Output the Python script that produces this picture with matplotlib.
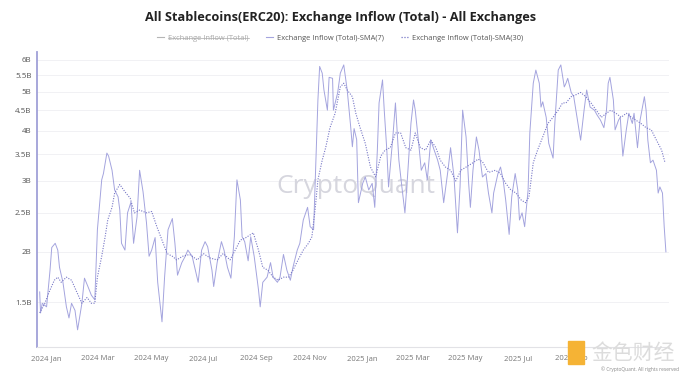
import matplotlib
matplotlib.use("Agg")
import matplotlib.pyplot as plt
import matplotlib.dates as mdates
from matplotlib.ticker import FixedLocator, NullLocator
from matplotlib.lines import Line2D
import pandas as pd

title = "All Stablecoins(ERC20): Exchange Inflow (Total) - All Exchanges"
legend_labels = ["Exchange Inflow (Total)", "Exchange Inflow (Total)-SMA(7)", "Exchange Inflow (Total)-SMA(30)"]

sma7_dates = [
    "2023-12-24", "2023-12-25", "2023-12-27", "2024-01-01", "2024-01-05", "2024-01-07", "2024-01-11",
    "2024-01-14", "2024-01-16", "2024-01-20", "2024-01-24", "2024-01-27", "2024-01-30", "2024-02-03",
    "2024-02-06", "2024-02-11", "2024-02-14", "2024-02-18", "2024-02-22", "2024-02-26", "2024-02-29",
    "2024-03-05", "2024-03-07", "2024-03-11", "2024-03-13", "2024-03-17", "2024-03-20", "2024-03-24",
    "2024-03-26", "2024-03-28", "2024-04-01", "2024-04-04", "2024-04-08", "2024-04-11", "2024-04-15",
    "2024-04-18", "2024-04-22", "2024-04-26", "2024-04-29", "2024-05-02", "2024-05-06", "2024-05-09",
    "2024-05-14", "2024-05-17", "2024-05-21", "2024-05-26", "2024-05-29", "2024-06-01", "2024-06-06",
    "2024-06-10", "2024-06-13", "2024-06-18", "2024-06-21", "2024-06-25", "2024-06-29", "2024-07-03",
    "2024-07-06", "2024-07-11", "2024-07-13", "2024-07-17", "2024-07-22", "2024-07-25", "2024-07-29",
    "2024-08-02", "2024-08-06", "2024-08-09", "2024-08-13", "2024-08-15", "2024-08-18", "2024-08-22",
    "2024-08-25", "2024-08-29", "2024-09-03", "2024-09-05", "2024-09-08", "2024-09-13", "2024-09-17",
    "2024-09-20", "2024-09-25", "2024-09-28", "2024-10-02", "2024-10-06", "2024-10-10", "2024-10-13",
    "2024-10-18", "2024-10-21", "2024-10-25", "2024-10-30", "2024-11-02", "2024-11-06", "2024-11-08",
    "2024-11-11", "2024-11-13", "2024-11-16", "2024-11-18", "2024-11-22", "2024-11-24", "2024-11-28",
    "2024-11-29", "2024-12-04", "2024-12-07", "2024-12-11", "2024-12-15", "2024-12-19", "2024-12-21",
    "2024-12-23", "2024-12-26", "2024-12-28", "2025-01-02", "2025-01-05", "2025-01-09", "2025-01-13",
    "2025-01-16", "2025-01-19", "2025-01-21", "2025-01-25", "2025-01-27", "2025-01-30", "2025-02-01",
    "2025-02-06", "2025-02-09", "2025-02-13", "2025-02-16", "2025-02-20", "2025-02-23", "2025-02-27",
    "2025-03-02", "2025-03-04", "2025-03-08", "2025-03-11", "2025-03-15", "2025-03-18", "2025-03-22",
    "2025-03-25", "2025-03-30", "2025-04-02", "2025-04-06", "2025-04-11", "2025-04-14", "2025-04-18",
    "2025-04-22", "2025-04-25", "2025-04-28", "2025-05-02", "2025-05-05", "2025-05-07", "2025-05-10",
    "2025-05-14", "2025-05-17", "2025-05-21", "2025-05-25", "2025-05-28", "2025-06-01", "2025-06-03",
    "2025-06-08", "2025-06-11", "2025-06-14", "2025-06-17", "2025-06-21", "2025-06-24", "2025-06-28",
    "2025-07-01", "2025-07-03", "2025-07-06", "2025-07-09", "2025-07-13", "2025-07-15", "2025-07-19",
    "2025-07-22", "2025-07-26", "2025-07-28", "2025-07-30", "2025-08-03", "2025-08-06", "2025-08-11",
    "2025-08-13", "2025-08-17", "2025-08-20", "2025-08-24", "2025-08-26", "2025-08-28", "2025-09-01",
    "2025-09-04", "2025-09-09", "2025-09-12", "2025-09-16", "2025-09-19", "2025-09-23", "2025-09-28",
    "2025-10-01", "2025-10-05", "2025-10-09", "2025-10-12", "2025-10-14", "2025-10-16", "2025-10-20",
    "2025-10-22", "2025-10-26", "2025-10-28", "2025-10-31", "2025-11-04", "2025-11-07", "2025-11-11",
    "2025-11-13", "2025-11-17", "2025-11-20", "2025-11-25", "2025-11-27", "2025-11-29", "2025-12-02",
    "2025-12-05", "2025-12-09", "2025-12-11", "2025-12-13", "2025-12-16", "2025-12-18", "2025-12-20",
]
sma7_values = [
    1.59, 1.41, 1.49, 1.46, 1.80, 2.05, 2.10,
    2.02, 1.83, 1.68, 1.46, 1.37, 1.49, 1.43,
    1.28, 1.49, 1.72, 1.64, 1.56, 1.52, 2.27,
    3.02, 3.13, 3.52, 3.46, 3.19, 2.85, 2.74,
    2.54, 2.10, 2.02, 2.50, 2.66, 2.10, 2.44,
    3.19, 2.82, 2.36, 1.95, 2.02, 2.17, 1.68,
    1.34, 1.73, 2.27, 2.42, 2.10, 1.75, 1.88,
    1.95, 2.02, 1.95, 1.83, 1.68, 2.02, 2.12,
    2.06, 1.80, 1.64, 1.88, 2.12, 2.02, 1.83,
    1.72, 2.18, 3.02, 2.69, 2.18, 2.12, 1.90,
    2.18, 1.95, 1.61, 1.46, 1.68, 1.73, 1.88,
    1.73, 1.68, 1.73, 1.97, 1.80, 1.70, 1.83,
    2.02, 2.10, 2.40, 2.58, 2.31, 2.27, 3.07,
    4.77, 5.78, 5.56, 5.05, 4.50, 5.43, 5.40,
    4.50, 4.98, 5.56, 5.83, 5.05, 4.10, 3.65,
    4.05, 3.80, 2.65, 2.96, 3.07, 2.85, 2.96,
    2.58, 3.58, 4.69, 5.35, 4.50, 3.58, 2.90,
    3.86, 4.69, 3.38, 2.96, 2.50, 3.07, 4.17,
    4.77, 4.50, 3.72, 3.19, 3.33, 3.02, 3.79,
    3.63, 3.38, 3.19, 2.65, 3.19, 3.63, 3.07,
    2.23, 2.90, 4.50, 3.86, 2.96, 2.58, 3.19,
    3.86, 3.58, 3.07, 3.13, 2.80, 2.50, 2.80,
    3.13, 3.25, 3.02, 2.69, 2.21, 2.74, 3.13,
    2.85, 2.40, 2.50, 2.31, 2.85, 3.95, 5.25,
    5.66, 5.25, 4.58, 4.72, 4.32, 3.72, 3.42,
    4.17, 5.66, 5.83, 5.14, 5.25, 5.40, 4.98,
    4.86, 4.17, 3.79, 4.50, 5.05, 4.58, 4.50,
    4.38, 4.25, 4.07, 4.50, 5.25, 5.43, 4.77,
    4.02, 4.25, 4.32, 3.46, 4.02, 4.42, 4.17,
    4.42, 3.63, 4.25, 4.86, 4.50, 3.79, 3.33,
    3.38, 3.19, 2.80, 2.90, 2.80, 2.31, 2.00,
]

sma30_dates = [
    "2023-12-24", "2023-12-30", "2024-01-04", "2024-01-10", "2024-01-14", "2024-01-18", "2024-01-24",
    "2024-01-30", "2024-02-05", "2024-02-11", "2024-02-17", "2024-02-22", "2024-02-26", "2024-02-29",
    "2024-03-05", "2024-03-09", "2024-03-12", "2024-03-17", "2024-03-20", "2024-03-26", "2024-04-01",
    "2024-04-07", "2024-04-12", "2024-04-18", "2024-04-26", "2024-05-02", "2024-05-08", "2024-05-14",
    "2024-05-20", "2024-05-26", "2024-05-31", "2024-06-07", "2024-06-15", "2024-06-24", "2024-07-01",
    "2024-07-09", "2024-07-17", "2024-07-24", "2024-08-01", "2024-08-07", "2024-08-13", "2024-08-18",
    "2024-08-28", "2024-09-03", "2024-09-08", "2024-09-14", "2024-09-20", "2024-09-26", "2024-10-02",
    "2024-10-08", "2024-10-13", "2024-10-19", "2024-10-25", "2024-10-31", "2024-11-04", "2024-11-08",
    "2024-11-11", "2024-11-16", "2024-11-20", "2024-11-25", "2024-12-01", "2024-12-07", "2024-12-11",
    "2024-12-15", "2024-12-21", "2024-12-25", "2024-12-30", "2025-01-05", "2025-01-11", "2025-01-17",
    "2025-01-23", "2025-01-28", "2025-02-03", "2025-02-09", "2025-02-15", "2025-02-21", "2025-02-27",
    "2025-03-04", "2025-03-10", "2025-03-16", "2025-03-22", "2025-03-28", "2025-04-02", "2025-04-08",
    "2025-04-14", "2025-04-20", "2025-04-26", "2025-05-02", "2025-05-10", "2025-05-16", "2025-05-21",
    "2025-05-28", "2025-06-05", "2025-06-11", "2025-06-17", "2025-06-23", "2025-06-29", "2025-07-05",
    "2025-07-10", "2025-07-14", "2025-07-19", "2025-07-24", "2025-07-30", "2025-08-05", "2025-08-11",
    "2025-08-17", "2025-08-22", "2025-08-26", "2025-09-01", "2025-09-07", "2025-09-12", "2025-09-18",
    "2025-09-24", "2025-09-30", "2025-10-06", "2025-10-12", "2025-10-17", "2025-10-23", "2025-10-29",
    "2025-11-04", "2025-11-10", "2025-11-15", "2025-11-21", "2025-11-27", "2025-12-03", "2025-12-09",
    "2025-12-15", "2025-12-19",
]
sma30_values = [
    1.41, 1.49, 1.59, 1.70, 1.73, 1.68, 1.73,
    1.70, 1.59, 1.49, 1.54, 1.49, 1.49, 1.73,
    1.95, 2.18, 2.40, 2.58, 2.80, 2.94, 2.82,
    2.72, 2.50, 2.54, 2.50, 2.52, 2.31, 2.14,
    1.98, 1.95, 1.91, 1.95, 1.97, 1.91, 1.98,
    1.93, 1.91, 1.98, 1.91, 2.02, 2.14, 2.16,
    2.23, 2.02, 1.83, 1.80, 1.73, 1.70, 1.73,
    1.73, 1.80, 1.91, 2.02, 2.10, 2.18, 2.58,
    3.02, 3.38, 3.63, 4.07, 4.42, 5.14, 5.25,
    5.05, 4.86, 4.42, 4.07, 3.72, 3.25, 3.07,
    3.46, 3.58, 3.63, 3.95, 3.95, 3.63, 3.58,
    3.95, 3.63, 3.58, 3.79, 3.63, 3.38, 3.25,
    3.19, 3.00, 3.19, 3.25, 3.33, 3.40, 3.35,
    3.15, 3.19, 3.13, 2.96, 2.85, 2.80, 2.69,
    2.65, 2.74, 3.33, 3.58, 3.86, 4.17, 4.32,
    4.50, 4.69, 4.69, 4.86, 4.92, 4.98, 4.86,
    4.69, 4.50, 4.32, 4.42, 4.50, 4.42, 4.32,
    4.42, 4.32, 4.25, 4.17, 4.07, 4.02, 3.79,
    3.58, 3.33,
]

y_ticks = [1.5, 2, 2.5, 3, 3.5, 4, 4.5, 5, 5.5, 6]
y_tick_labels = ["1.5B", "2B", "2.5B", "3B", "3.5B", "4B", "4.5B", "5B", "5.5B", "6B"]
x_ticks = ["2024-01-01", "2024-03-01", "2024-05-01", "2024-07-01", "2024-09-01", "2024-11-01",
           "2025-01-01", "2025-03-01", "2025-05-01", "2025-07-01", "2025-09-01"]
x_tick_labels = ["2024 Jan", "2024 Mar", "2024 May", "2024 Jul", "2024 Sep", "2024 Nov",
                 "2025 Jan", "2025 Mar", "2025 May", "2025 Jul", "2025 Sep"]

plt.rcParams['font.family'] = ['Open Sans', 'DejaVu Sans']

fig = plt.figure(figsize=(7.0, 3.79), dpi=100)
ax = fig.add_axes([0.053, 0.0844, 0.902, 0.7786])

c7 = "#a4a4de"
c30 = "#7676c6"
ax.plot(pd.to_datetime(sma7_dates), sma7_values, color=c7, lw=0.7, zorder=3)
ax.plot(pd.to_datetime(sma30_dates), sma30_values, color=c30, lw=0.8,
        linestyle=(0, (1, 1.3)), zorder=3)

ax.set_yscale("log")
ax.set_ylim(1.16, 6.28)
ax.yaxis.set_major_locator(FixedLocator(y_ticks))
ax.yaxis.set_minor_locator(NullLocator())
ax.set_yticklabels(y_tick_labels)
ax.set_xlim(pd.Timestamp("2023-12-21"), pd.Timestamp("2025-12-23"))
ax.set_xticks(pd.to_datetime(x_ticks))
ax.set_xticklabels(x_tick_labels)

ax.tick_params(axis="y", length=0, labelsize=5.8, colors="#555555", pad=4)
ax.tick_params(axis="x", length=0, labelsize=5.5, colors="#777777", pad=6)
ax.grid(axis="y", color="#f1f1f4", lw=0.7)
ax.set_axisbelow(True)
for s in ["top", "right"]:
    ax.spines[s].set_visible(False)
ax.spines["left"].set_color("#a0a0d8")
ax.spines["left"].set_linewidth(1.3)
ax.spines["bottom"].set_color("#e2e2e6")
ax.spines["bottom"].set_linewidth(0.8)

# watermark
ax.text(0.505, 0.545, "CryptoQuant", transform=ax.transAxes, ha="center", va="center",
        fontsize=19, color="#d6d6de", zorder=1)

fig.text(0.486, 0.955, title, ha="center", va="center", fontsize=9.2, fontweight="bold",
         color="#222222")

handles = [Line2D([], [], color="#b5b5b5", lw=0.8),
           Line2D([], [], color=c7, lw=0.8),
           Line2D([], [], color=c30, lw=0.9, linestyle=(0, (1, 1.3)))]
leg = fig.legend(handles, legend_labels, loc="center", bbox_to_anchor=(0.486, 0.9),
                 ncol=3, frameon=False, fontsize=5.4, handlelength=1.0, handletextpad=0.5,
                 columnspacing=2.3)
texts = leg.get_texts()
texts[0].set_color("#aaaaaa")
texts[1].set_color("#555555")
texts[2].set_color("#555555")

fig.canvas.draw()
bb = texts[0].get_window_extent()
inv = fig.transFigure.inverted()
(x0, y0), (x1, y1) = inv.transform([[bb.x0, bb.y0], [bb.x1, bb.y1]])
fig.add_artist(Line2D([x0, x1], [(y0 + y1) / 2, (y0 + y1) / 2], color="#aaaaaa", lw=0.5,
                      transform=fig.transFigure))

# bottom-right logo marks
fig.add_artist(plt.Rectangle((0.812, 0.04), 0.022, 0.06, transform=fig.transFigure,
                             color="#f5b335", zorder=5))
fig.text(0.905, 0.07, "金色财经", ha="center", va="center", fontsize=15, color="#dcdcdc",
         family=["Noto Sans CJK SC", "DejaVu Sans"], zorder=5)
fig.text(0.915, 0.025, "© CryptoQuant. All rights reserved", ha="center", va="center",
         fontsize=3.5, color="#888888", zorder=6)

fig.savefig("out.png", dpi=100, facecolor="white")
